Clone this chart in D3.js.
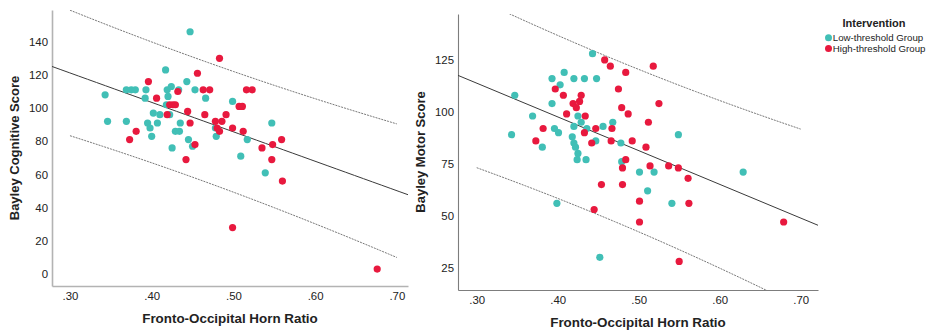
<!DOCTYPE html>
<html>
<head>
<meta charset="utf-8">
<script src="https://cdn.jsdelivr.net/npm/d3@7"></script>
<style>
  body { margin: 0; background: #fff; }
  svg { display: block; }
  text { font-family: "Liberation Sans", Arial, sans-serif; fill: #222; }
</style>
</head>
<body>
<svg id="chart" width="929" height="331"></svg>
<script>
// Fronto-occipital horn ratio vs Bayley scores, by intervention group
const groups = ['Low-threshold Group', 'High-threshold Group'];
const groupColors = ['#41bfb6', '#e8193e'];
const xTicks = [0.30, 0.40, 0.50, 0.60, 0.70];

// cognitive score
const cogLowX = [0.343, 0.346, 0.369, 0.375, 0.380, 0.369, 0.393, 0.392, 0.395, 0.398, 0.400, 0.402, 0.407, 0.410, 0.417, 0.419, 0.420, 0.424, 0.422, 0.418, 0.425, 0.429, 0.433, 0.435, 0.434, 0.443, 0.447, 0.445, 0.450, 0.453, 0.466, 0.478, 0.479, 0.499, 0.509, 0.517, 0.539, 0.547];
const cogLowY = [108, 92, 111, 111, 111, 92, 111, 106, 91, 88, 83, 97, 91, 96, 123, 111, 107, 113, 96, 102, 76, 86, 111, 91, 86, 116, 146, 81, 77, 111, 106, 88, 83, 104, 71, 81, 61, 91];
const cogHighX = [0.373, 0.381, 0.396, 0.406, 0.419, 0.422, 0.426, 0.429, 0.432, 0.444, 0.447, 0.442, 0.453, 0.456, 0.463, 0.465, 0.471, 0.478, 0.483, 0.480, 0.483, 0.486, 0.491, 0.499, 0.499, 0.507, 0.511, 0.512, 0.516, 0.523, 0.535, 0.547, 0.548, 0.559, 0.560, 0.676];
const cogHighY = [81, 86, 116, 106, 96, 102, 102, 102, 110, 98, 91, 69, 78, 121, 111, 96, 111, 92, 130, 88, 86, 92, 96, 88, 28, 101, 101, 86, 111, 111, 76, 69, 78, 81, 56, 3];
const cogTicks = [0, 20, 40, 60, 80, 100, 120, 140];

// motor score
const motLowX = [0.347, 0.343, 0.369, 0.381, 0.393, 0.393, 0.408, 0.403, 0.396, 0.401, 0.399, 0.420, 0.433, 0.448, 0.443, 0.425, 0.429, 0.420, 0.436, 0.418, 0.420, 0.422, 0.425, 0.424, 0.435, 0.447, 0.456, 0.468, 0.478, 0.479, 0.452, 0.501, 0.519, 0.511, 0.541, 0.549, 0.629];
const motLowY = [108, 89, 98, 83, 116, 104, 119, 113, 92, 90, 56, 116, 116, 116, 128, 98, 95, 93, 92, 88, 85, 83, 80, 77, 77, 86, 93, 95, 85, 76, 30, 71, 71, 62, 56, 89, 71];
const motHighX = [0.458, 0.465, 0.484, 0.518, 0.475, 0.397, 0.407, 0.429, 0.419, 0.427, 0.423, 0.411, 0.434, 0.479, 0.487, 0.525, 0.382, 0.373, 0.433, 0.447, 0.467, 0.442, 0.466, 0.492, 0.512, 0.509, 0.484, 0.480, 0.514, 0.537, 0.549, 0.561, 0.454, 0.480, 0.501, 0.562, 0.445, 0.501, 0.550, 0.679];
const motHighY = [125, 122, 119, 122, 111, 111, 108, 108, 104, 105, 102, 99, 98, 102, 99, 104, 92, 86, 90, 92, 92, 85, 86, 86, 95, 83, 77, 73, 74, 74, 73, 68, 65, 65, 57, 56, 53, 47, 28, 47];
const motTicks = [25, 50, 75, 100, 125];

const svg = d3.select('#chart');
const fmtX = d => d3.format('.2f')(d).replace(/^0/, '');

// least squares fit with individual 95% prediction interval
function fitLine(xs, ys) {
  const n = xs.length;
  const mx = d3.mean(xs), my = d3.mean(ys);
  let sxx = 0, sxy = 0;
  xs.forEach((x, i) => { sxx += (x - mx) ** 2; sxy += (x - mx) * (ys[i] - my); });
  const b = sxy / sxx, a = my - b * mx;
  const sse = d3.sum(xs, (x, i) => (ys[i] - a - b * x) ** 2);
  const s = Math.sqrt(sse / (n - 2));
  const t = 1.994;
  const half = x => t * s * Math.sqrt(1 + 1 / n + (x - mx) ** 2 / sxx);
  return { y: x => a + b * x, lo: x => a + b * x - half(x), hi: x => a + b * x + half(x) };
}

function drawPanel(cfg) {
  const x = d3.scaleLinear().domain(cfg.xDomain).range([cfg.left, cfg.right]);
  const y = d3.scaleLinear().domain(cfg.yDomain).range([cfg.bottom, cfg.top]);
  const g = svg.append('g');

  g.append('clipPath').attr('id', cfg.id + '-clip')
    .append('rect')
    .attr('x', cfg.left).attr('y', cfg.top)
    .attr('width', cfg.right - cfg.left).attr('height', cfg.bottom - cfg.top);

  // axes
  const xAxis = g.append('g').attr('transform', `translate(0,${cfg.bottom})`)
    .call(d3.axisBottom(x).tickValues(xTicks).tickFormat(fmtX).tickSize(0).tickPadding(cfg.xPad));
  const yAxis = g.append('g').attr('transform', `translate(${cfg.left},0)`)
    .call(d3.axisLeft(y).tickValues(cfg.yTicks).tickSize(0).tickPadding(4));
  [xAxis, yAxis].forEach(a => {
    a.select('.domain').attr('stroke', cfg.axisColor).attr('stroke-width', cfg.axisWidth);
    a.selectAll('text').attr('font-size', 11.4).attr('fill', '#222')
      .attr('font-family', '"Liberation Sans", Arial, sans-serif');
  });

  // axis titles
  g.append('text')
    .attr('x', (cfg.left + cfg.right) / 2).attr('y', cfg.xTitleY)
    .attr('text-anchor', 'middle').attr('font-weight', 'bold').attr('font-size', 13.4)
    .text('Fronto-Occipital Horn Ratio');
  g.append('text')
    .attr('transform', `translate(${cfg.yTitleX},${(cfg.top + cfg.bottom) / 2}) rotate(-90)`)
    .attr('text-anchor', 'middle').attr('font-weight', 'bold').attr('font-size', 13)
    .text(cfg.yTitle);

  const plot = g.append('g').attr('clip-path', `url(#${cfg.id}-clip)`);

  // fit at total + prediction interval
  const allX = cfg.lowX.concat(cfg.highX), allY = cfg.lowY.concat(cfg.highY);
  const f = fitLine(allX, allY);
  const xsFull = d3.range(0, 41).map(i => cfg.xDomain[0] + (cfg.xDomain[1] - cfg.xDomain[0]) * i / 40);
  const xsPI = d3.range(0, 41).map(i => 0.30 + 0.40 * i / 40);
  plot.append('path')
    .attr('d', d3.line().x(d => x(d)).y(d => y(f.y(d)))(xsFull))
    .attr('fill', 'none').attr('stroke', '#3a3a3a').attr('stroke-width', 1);
  ['lo', 'hi'].forEach(k => {
    plot.append('path')
      .attr('d', d3.line().x(d => x(d)).y(d => y(f[k](d)))(xsPI))
      .attr('fill', 'none').attr('stroke', '#555').attr('stroke-width', 0.8)
      .attr('stroke-dasharray', '2,1');
  });

  // points
  const pts = [];
  cfg.lowX.forEach((v, i) => pts.push({ x: v, y: cfg.lowY[i], g: 0 }));
  cfg.highX.forEach((v, i) => pts.push({ x: v, y: cfg.highY[i], g: 1 }));
  plot.append('g').selectAll('circle')
    .data(pts)
    .enter()
    .append('circle')
    .attr('cx', d => x(d.x))
    .attr('cy', d => y(d.y))
    .attr('r', 3.6)
    .attr('fill', d => groupColors[d.g]);
}

drawPanel({
  id: 'cog', left: 52, right: 408, top: 10, bottom: 286,
  xDomain: [0.278, 0.7137], yDomain: [-7.2, 159.1], yTicks: cogTicks,
  lowX: cogLowX, lowY: cogLowY, highX: cogHighX, highY: cogHighY,
  yTitle: 'Bayley Cognitive Score', yTitleX: 19, xTitleY: 323, xPad: 6,
  axisColor: '#b3b3b3', axisWidth: 1.6
});

drawPanel({
  id: 'mot', left: 458, right: 818, top: 14, bottom: 290,
  xDomain: [0.2769, 0.7214], yDomain: [14.26, 147.1], yTicks: motTicks,
  lowX: motLowX, lowY: motLowY, highX: motHighX, highY: motHighY,
  yTitle: 'Bayley Motor Score', yTitleX: 425, xTitleY: 327, xPad: 6,
  axisColor: '#7d7d7d', axisWidth: 1.1
});

// legend
const legend = svg.append('g');
legend.append('text')
  .attr('x', 874).attr('y', 27)
  .attr('text-anchor', 'middle').attr('font-weight', 'bold').attr('font-size', 11)
  .text('Intervention');
groups.forEach((name, i) => {
  legend.append('circle')
    .attr('cx', 828.5).attr('cy', 37.8 + i * 10.6).attr('r', 3.5)
    .attr('fill', groupColors[i]);
  legend.append('text')
    .attr('x', 832.8).attr('y', 41.2 + i * 10.6)
    .attr('font-size', 9.7)
    .text(name);
});
</script>
</body>
</html>
